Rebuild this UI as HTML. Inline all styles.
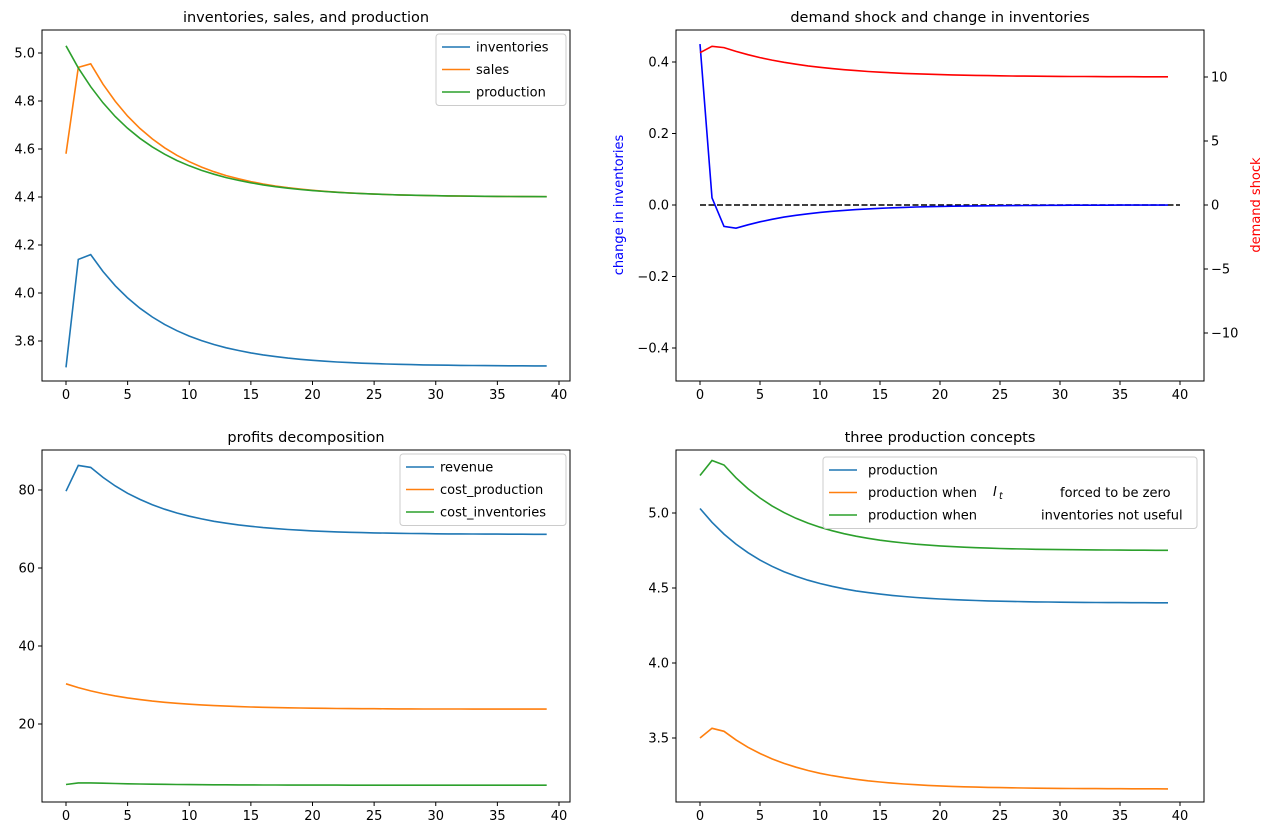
<!DOCTYPE html>
<html><head><meta charset="utf-8"><style>
body{margin:0;background:#fff;}
svg text{font-family:"DejaVu Sans","Liberation Sans",sans-serif;fill:#000;}
</style></head><body>
<svg id="s" width="1272" height="834" xmlns="http://www.w3.org/2000/svg"></svg>
<script>
const S=document.getElementById('s');let h='';
const B='#1f77b4',O='#ff7f0e',G='#2ca02c';
function ser(f){let a=[];for(let t=0;t<40;t++)a.push(f(t));return a;}
function dec(pre,base,ex,r,t0){return t=>t<pre.length?pre[t]:base+ex*Math.pow(r,t-t0);}
function xmap(ax,t){return ax.x0+t*(ax.x40-ax.x0)/40;}
function line(ax,ys,ym,col,dash){let p=ys.map((y,t)=>xmap(ax,t).toFixed(1)+','+ym(y).toFixed(1)).join(' ');
h+=`<polyline points="${p}" fill="none" stroke="${col}" stroke-width="1.6"${dash?' stroke-dasharray="6,2.5"':''}/>`;}
function frame(ax,title){
h+=`<rect x="${ax.l}" y="${ax.t}" width="${ax.r-ax.l}" height="${ax.b-ax.t}" fill="none" stroke="#000" stroke-width="1"/>`;
h+=`<text x="${(ax.l+ax.r)/2}" y="${ax.t-8}" font-size="14.5" text-anchor="middle">${title}</text>`;
for(let v=0;v<=40;v+=5){let x=xmap(ax,v);h+=`<line x1="${x}" y1="${ax.b}" x2="${x}" y2="${ax.b+4}" stroke="#000"/><text x="${x}" y="${ax.b+18}" font-size="13" text-anchor="middle">${v}</text>`;}
}
function yt(ax,vals,ym,fmt,right){for(const v of vals){let y=ym(v);
if(right){h+=`<line x1="${ax.r}" y1="${y}" x2="${ax.r+4}" y2="${y}" stroke="#000"/><text x="${ax.r+7}" y="${y+4.5}" font-size="13">${fmt(v)}</text>`;}
else{h+=`<line x1="${ax.l-4}" y1="${y}" x2="${ax.l}" y2="${y}" stroke="#000"/><text x="${ax.l-7}" y="${y+4.5}" font-size="13" text-anchor="end">${fmt(v)}</text>`;}}}
function legend(x,y,w,rows){h+=`<rect x="${x}" y="${y}" width="${w}" height="${rows.length*22.5+4}" rx="3" fill="#fff" fill-opacity="0.8" stroke="#ccc"/>`;
rows.forEach((r,i)=>{let yy=y+13+i*22.5;h+=`<line x1="${x+6}" y1="${yy}" x2="${x+34}" y2="${yy}" stroke="${r[0]}" stroke-width="1.6"/>`;
r.slice(1).forEach(s=>{h+=`<text x="${s[0]}" y="${yy+4.5}" font-size="13">${s[1]}</text>`;});});}
const m=n=>n<0?'\u2212'+Math.abs(n):String(n);
// TL
let A={l:42,r:570,t:30,b:381,x0:66,x40:559};
let ymA=v=>53+(5.0-v)*240;
frame(A,'inventories, sales, and production');
yt(A,[3.8,4.0,4.2,4.4,4.6,4.8,5.0],ymA,v=>v.toFixed(1));
line(A,ser(dec([3.69,4.14,4.16],3.695,0.465,0.849,2)),ymA,B);
line(A,ser(dec([4.58,4.94,4.955],4.40,0.555,0.847,2)),ymA,O);
line(A,ser(dec([],4.40,0.63,0.854,0)),ymA,G);
legend(436,34,130,[[B,[476,'inventories']],[O,[476,'sales']],[G,[476,'production']]]);
// TR
let C={l:676,r:1204,t:30,b:381,x0:700,x40:1180};
let ymC=v=>205-v*357.5, ymC2=v=>205-v*12.8;
frame(C,'demand shock and change in inventories');
yt(C,[-0.4,-0.2,0,0.2,0.4],ymC,v=>v===0?'0.0':(v<0?'\u2212':'')+Math.abs(v).toFixed(1));
yt(C,[-10,-5,0,5,10],ymC2,v=>m(v),true);
h+=`<line x1="700" y1="205" x2="1180" y2="205" stroke="#000" stroke-width="1.6" stroke-dasharray="6,2.5"/>`;
line(C,ser(dec([0.45,0.02,-0.06,-0.065],0,-0.065,0.85,3)),ymC,'#0000ff');
line(C,ser(dec([11.9,12.4,12.3],10,2.3,0.87,2)),ymC2,'#ff0000');
h+=`<text transform="translate(623,205) rotate(-90)" font-size="13" text-anchor="middle" style="fill:#0000ff">change in inventories</text>`;
h+=`<text transform="translate(1260,205) rotate(-90)" font-size="13" text-anchor="middle" style="fill:#ff0000">demand shock</text>`;
// BL
let D={l:42,r:570,t:450,b:802,x0:66,x40:559};
let ymD=v=>490+(80-v)*3.9;
frame(D,'profits decomposition');
yt(D,[20,40,60,80],ymD,v=>v);
line(D,ser(dec([79.7,86.3,85.8],68.6,17.2,0.85,2)),ymD,B);
line(D,ser(dec([],23.8,6.5,0.85,0)),ymD,O);
line(D,ser(dec([4.5,4.9,4.9],4.3,0.6,0.85,2)),ymD,G);
legend(400,454,166,[[B,[440,'revenue']],[O,[440,'cost_production']],[G,[440,'cost_inventories']]]);
// BR
let E={l:676,r:1204,t:450,b:802,x0:700,x40:1180};
let ymE=v=>513+(5.0-v)*150;
frame(E,'three production concepts');
yt(E,[3.5,4.0,4.5,5.0],ymE,v=>v.toFixed(1));
line(E,ser(dec([],4.40,0.63,0.854,0)),ymE,B);
line(E,ser(dec([3.5,3.565,3.545],3.16,0.385,0.85,2)),ymE,O);
line(E,ser(dec([5.25,5.35,5.32],4.75,0.57,0.85,2)),ymE,G);
legend(823,457,374,[[B,[868,'production']],[O,[868,'production when'],[1060,'forced to be zero']],[G,[868,'production when'],[1041,'inventories not useful']]]);
h+=`<text x="993" y="496" font-size="13" font-style="italic">I</text><text x="999" y="499" font-size="9.5" font-style="italic">t</text>`;
S.innerHTML=h;
</script>
</body></html>
